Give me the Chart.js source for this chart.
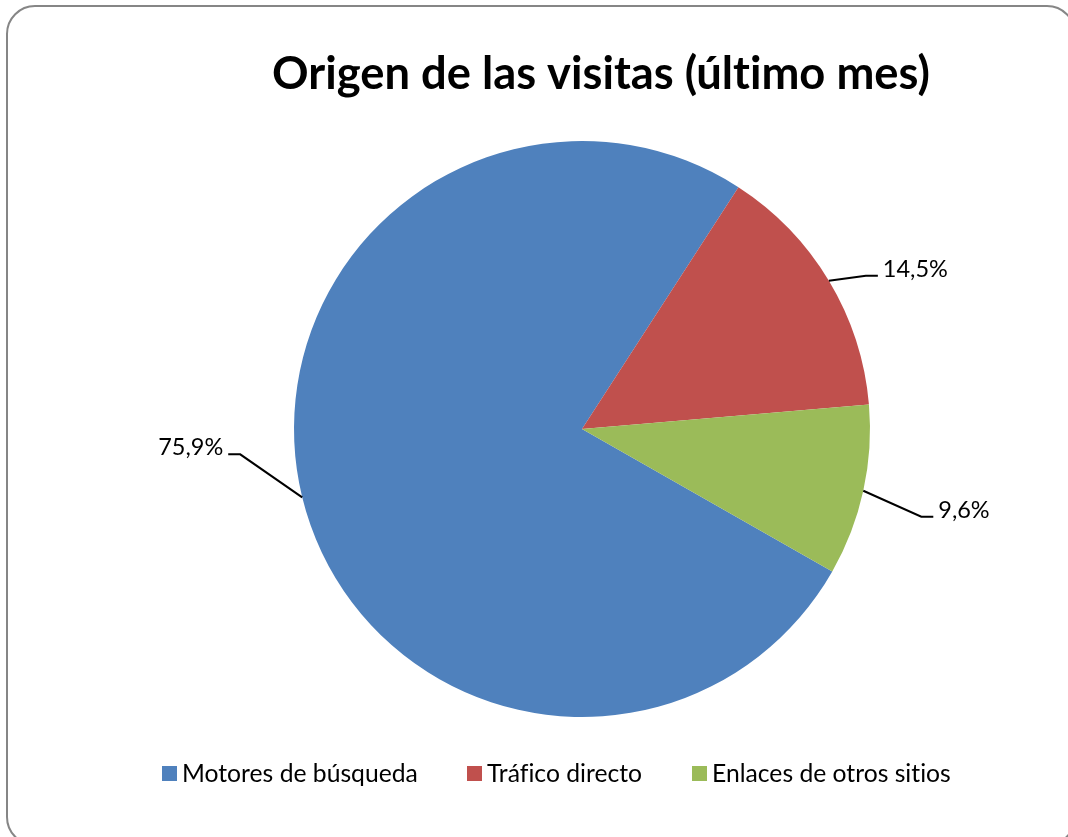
<!DOCTYPE html>
<html>
<head>
<meta charset="utf-8">
<script src="https://cdn.jsdelivr.net/npm/chart.js@4.4.0/dist/chart.umd.min.js"></script>
<style>
  html, body { margin: 0; padding: 0; background: #fff; }
  #wrap { width: 1068px; height: 837px; }
</style>
</head>
<body>
<div id="wrap"><canvas id="origen" width="1068" height="837"></canvas></div>
<script>
const chartTitle = 'Origen de las visitas (último mes)';
const categories = ['Motores de búsqueda', 'Tráfico directo', 'Enlaces de otros sitios'];
const shares = [75.9, 14.5, 9.6];
const shareLabels = ['75,9%', '14,5%', '9,6%'];
const sliceColors = ['#4F81BD', '#C0504D', '#9BBB59'];

// size a font so a text takes a given width
function fitSize(ctx, text, weight, family, target) {
  ctx.font = weight + ' 100px ' + family;
  return 100 * target / ctx.measureText(text).width;
}

function noLigatures(ctx) {
  if ('textRendering' in ctx) ctx.textRendering = 'optimizeSpeed';
}

const frame = {
  id: 'frame',
  beforeDraw(chart) {
    const ctx = chart.ctx;
    const x0 = 7, y0 = 6, x1 = 1075, y1 = 845, r = 28;
    ctx.save();
    noLigatures(ctx);
    ctx.fillStyle = '#fff';
    ctx.fillRect(0, 0, chart.width, chart.height);
    ctx.beginPath();
    ctx.moveTo(x0 + r, y0);
    ctx.lineTo(x1 - r, y0);
    ctx.arcTo(x1, y0, x1, y0 + r, r);
    ctx.lineTo(x1, y1 - r);
    ctx.arcTo(x1, y1, x1 - r, y1, r);
    ctx.lineTo(x0 + r, y1);
    ctx.arcTo(x0, y1, x0, y1 - r, r);
    ctx.lineTo(x0, y0 + r);
    ctx.arcTo(x0, y0, x0 + r, y0, r);
    ctx.closePath();
    ctx.strokeStyle = '#868686';
    ctx.lineWidth = 2;
    ctx.stroke();

    // title
    const ts = fitSize(ctx, chartTitle, 'bold', 'Lato', 658);
    ctx.font = 'bold ' + ts + 'px Lato';
    ctx.fillStyle = '#000';
    ctx.textAlign = 'center';
    ctx.textBaseline = 'alphabetic';
    ctx.fillText(chartTitle, 601, 89);

    // legend
    const ls = fitSize(ctx, categories[0], 'normal', 'Lato', 236);
    ctx.font = ls + 'px Lato';
    ctx.textAlign = 'left';
    const starts = [162, 467, 692];
    categories.forEach((c, i) => {
      ctx.fillStyle = sliceColors[i];
      ctx.fillRect(starts[i], 766, 15, 15);
      ctx.fillStyle = '#000';
      ctx.fillText(c, starts[i] + 20, 782);
    });
    ctx.restore();
  }
};

// leader lines and percentage labels
const leaders = {
  id: 'leaders',
  afterDatasetsDraw(chart) {
    const ctx = chart.ctx;
    const meta = chart.getDatasetMeta(0);
    const bends = [[-62, -43, -1], [37, -5, 1], [58, 26, 1]];
    ctx.save();
    noLigatures(ctx);
    const fs = fitSize(ctx, shareLabels[1], 'normal', 'Lato', 65);
    ctx.font = fs + 'px Lato';
    ctx.strokeStyle = '#000';
    ctx.fillStyle = '#000';
    ctx.lineWidth = 2;
    meta.data.forEach((arc, i) => {
      const p = arc.getProps(['x', 'y', 'startAngle', 'endAngle', 'outerRadius'], true);
      const mid = (p.startAngle + p.endAngle) / 2;
      const ax = p.x + Math.cos(mid) * p.outerRadius;
      const ay = p.y + Math.sin(mid) * p.outerRadius;
      const [dx, dy, side] = bends[i];
      const bx = ax + dx, by = ay + dy;
      const ex = bx + side * 12;
      ctx.beginPath();
      ctx.moveTo(ax, ay);
      ctx.lineTo(bx, by);
      ctx.lineTo(ex, by);
      ctx.stroke();
      ctx.textAlign = side > 0 ? 'left' : 'right';
      ctx.textBaseline = 'alphabetic';
      ctx.fillText(shareLabels[i], ex + side * 5, by + 1);
    });
    ctx.restore();
  }
};

new Chart(document.getElementById('origen'), {
  type: 'pie',
  data: {
    labels: categories,
    datasets: [{
      data: shares,
      backgroundColor: sliceColors,
      borderWidth: 0
    }]
  },
  options: {
    responsive: false,
    animation: false,
    rotation: 119.66,
    layout: { padding: { top: 141, bottom: 120, left: 294, right: 198 } },
    plugins: {
      legend: { display: false },
      title: { display: false },
      tooltip: { enabled: false }
    }
  },
  plugins: [frame, leaders]
});
</script>
</body>
</html>
